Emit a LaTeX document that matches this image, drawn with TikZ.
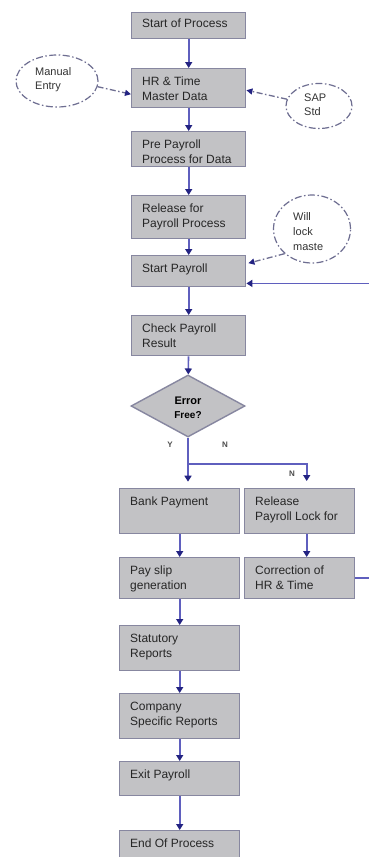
\documentclass[tikz,border=0pt]{standalone}
\usepackage{fontspec}
\setmainfont{Liberation Sans}
\usetikzlibrary{arrows.meta,shapes.geometric}
\definecolor{linec}{RGB}{95,95,190}
\definecolor{tipc}{RGB}{35,35,130}
\definecolor{boxf}{RGB}{194,194,197}
\definecolor{boxd}{RGB}{135,135,160}
\definecolor{ovald}{RGB}{110,110,145}
\tikzset{
  procbox/.style={draw=boxd, fill=boxf, line width=1.4pt, inner sep=0pt, anchor=north west},
  txt/.style={anchor=north west, align=left, inner sep=0pt, font=\fontsize{12}{15}\selectfont, text=black!85},
  otxt/.style={anchor=north west, align=left, inner sep=0pt, font=\fontsize{11}{14}\selectfont, text=black!80},
  oval/.style={ellipse, draw=ovald, line width=1.2pt, dash pattern=on 7pt off 2.5pt on 1.5pt off 2.5pt, inner sep=0pt},
  decision/.style={diamond, draw=boxd, fill=boxf, line width=1.4pt, inner sep=0pt},
  flow/.style={draw=linec, line width=1.6pt, -{Triangle[width=7pt,length=6pt,color=tipc]}},
  plain/.style={draw=linec, line width=1.6pt},
  dflow/.style={draw=ovald, line width=1.3pt, dash pattern=on 6pt off 2.5pt on 1.5pt off 2.5pt, -{Triangle[width=6pt,length=6pt,color=tipc]}},
  yn/.style={font=\bfseries\fontsize{8}{9}\selectfont, text=black!70, inner sep=0pt}
}
\newcommand{\pbox}[7]{%
  \node[procbox, minimum width=#4pt, minimum height=#5pt] (#1) at (#2,#3) {};
  \node[txt] (#1-t) at ([xshift=11pt,yshift=-#6pt]#1.north west) {#7};}
\begin{document}
\begin{tikzpicture}[x=1pt,y=-1pt]
\useasboundingbox (0,0) rectangle (369,857);
\clip (0,0) rectangle (369,857);
\fill[white] (0,0) rectangle (369,857);

% main column
\pbox{start}{131}{12}{114}{26}{6.5}{Start of Process}
\pbox{hr}{131}{68}{114}{39}{8.5}{HR \& Time\\Master Data}
\pbox{pre}{131}{131}{114}{35}{8.5}{Pre Payroll\\Process for Data}
\pbox{rel}{131}{195}{114}{43}{8.5}{Release for\\Payroll Process}
\pbox{sp}{131}{255}{114}{31}{8.5}{Start Payroll}
\pbox{chk}{131}{315}{114}{40}{8.5}{Check Payroll\\Result}

\node[decision, minimum width=114pt, minimum height=62pt] (dia) at (188,406) {};
\node[inner sep=0pt, align=center, font=\bfseries\fontsize{11}{14}\selectfont] (dia-t) at ([yshift=-2pt]dia.center) {Error\\{\fontsize{10}{12}\selectfont Free?}};

\pbox{bank}{119}{488}{120}{45}{8.5}{Bank Payment}
\pbox{relk}{244}{488}{110}{45}{8.5}{Release\\Payroll Lock for}
\pbox{pay}{119}{557}{120}{41}{8.5}{Pay slip\\generation}
\pbox{corr}{244}{557}{110}{41}{8.5}{Correction of\\HR \& Time}
\pbox{stat}{119}{625}{120}{45}{8.5}{Statutory\\Reports}
\pbox{comp}{119}{693}{120}{45}{8.5}{Company\\Specific Reports}
\pbox{exit}{119}{761}{120}{34}{8.5}{Exit Payroll}
\pbox{endp}{119}{830}{120}{40}{8.5}{End Of Process}

% side ovals
\node[oval, minimum width=82pt, minimum height=52pt] (man) at (57,81) {};
\node[otxt] (man-t) at (35,67) {Manual\\Entry};
\node[oval, minimum width=66pt, minimum height=45pt] (sap) at (319,106) {};
\node[otxt] (sap-t) at (304,94) {SAP\\Std};
\node[oval, minimum width=77pt, minimum height=68pt] (will) at (312,229) {};
\node[otxt, font=\fontsize{11}{15}\selectfont] (will-t) at (293,212) {Will\\lock\\maste};

% connectors
\draw[flow] (start) -- (hr);
\draw[flow] (hr) -- (pre);
\draw[flow] (pre) -- (rel);
\draw[flow] (rel) -- (sp);
\draw[flow] (sp) -- (chk);
\draw[flow] (chk) -- (dia);
\draw[plain] (dia.south) -- ++(0,26) coordinate (jn);
\draw[flow] (jn) -- ++(0,18);
\draw[flow] (jn) -| ([xshift=7pt,yshift=7pt]relk.north);
\draw[flow] (bank) -- (pay);
\draw[flow] ([xshift=7pt]relk.south) -- ([xshift=7pt]corr.north);
\draw[flow] (pay) -- (stat);
\draw[flow] (stat) -- (comp);
\draw[flow] (comp) -- (exit);
\draw[flow] (exit) -- (endp);
\draw[flow] (corr.east) -- ++(40,0) |- ([yshift=4pt]sp.south east);

\draw[dflow] (man.-8) -- ([yshift=-6pt]hr.west);
\draw[dflow] (sap.168) -- ([yshift=-2pt]hr.east);
\draw[dflow] (will.222) -- ([yshift=8pt,xshift=2pt]sp.east);

% branch labels
\node[yn] (ly) at (170,445) {Y};
\node[yn] (ln1) at (225,445) {N};
\node[yn] (ln2) at (292,474) {N};
\end{tikzpicture}
\end{document}
